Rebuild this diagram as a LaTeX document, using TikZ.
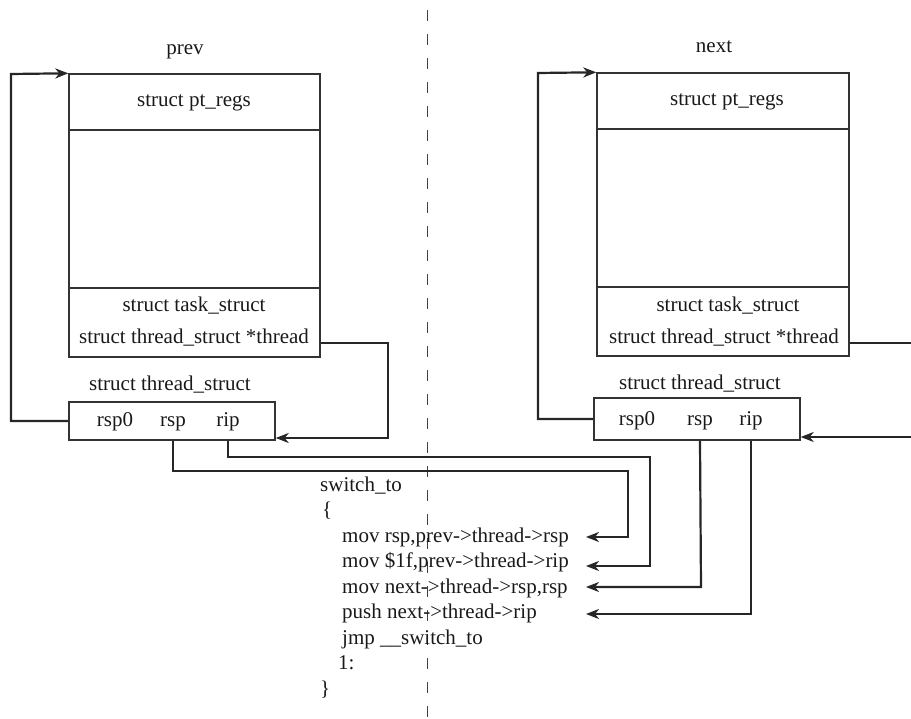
\documentclass[tikz,border=0pt]{standalone}
\usepackage{fontspec}
\setmainfont{Liberation Serif}
\usetikzlibrary{arrows.meta}
\begin{document}
\begin{tikzpicture}[x=1pt,y=-1pt,
  txt/.style={inner sep=0pt,anchor=base,font=\fontsize{21}{25}\selectfont,text=black!90},
  code/.style={inner sep=0pt,anchor=base west,font=\fontsize{21}{25}\selectfont,text=black!90},
  box/.style={draw=black!80,line width=1.4pt,inner sep=0pt},
  conn/.style={draw=black!85,line width=2.2pt},
  arr/.style={conn,-{Stealth[length=13pt,width=10pt,inset=4pt]}},
  sep/.style={draw=black!80,line width=1.4pt}]
\useasboundingbox (0,0) rectangle (911,719);

% dashed divider
\draw[black!75,line width=0.9pt,dash pattern=on 11pt off 13pt] (427,10) -- (427,719);

% ---------- prev ----------
\node[txt] (prevlbl) at (185,55) {prev};
\node[box,minimum width=251pt,minimum height=283pt] (prevbox) at (194.5,215.5) {};
\draw[sep] (prevbox.west |- 0,130) -- (prevbox.east |- 0,130);
\draw[sep] (prevbox.west |- 0,288) -- (prevbox.east |- 0,288);
\node[txt] (prevregs) at (194,107) {struct pt\_regs};
\node[txt] (prevtask) at (194,312) {struct task\_struct};
\node[txt] (prevptr) at (194,344) {struct thread\_struct *thread};
\node[txt] (prevtslbl) at (170,391) {struct thread\_struct};
\node[box,minimum width=206pt,minimum height=38pt] (prevts) at (172,421) {};
\node[txt] (prevrsp0) at (115,427) {rsp0};
\node[txt] (prevrsp) at (173,427) {rsp};
\node[txt] (prevrip) at (228,427) {rip};

% ---------- next ----------
\node[txt] (nextlbl) at (714,53) {next};
\node[box,minimum width=252pt,minimum height=283pt] (nextbox) at (723,214.5) {};
\draw[sep] (nextbox.west |- 0,129) -- (nextbox.east |- 0,129);
\draw[sep] (nextbox.west |- 0,287) -- (nextbox.east |- 0,287);
\node[txt] (nextregs) at (727,106) {struct pt\_regs};
\node[txt] (nexttask) at (728,312) {struct task\_struct};
\node[txt] (nextptr) at (724,344) {struct thread\_struct *thread};
\node[txt] (nexttslbl) at (700,390) {struct thread\_struct};
\node[box,minimum width=206pt,minimum height=42pt] (nextts) at (697,419) {};
\node[txt] (nextrsp0) at (637,426) {rsp0};
\node[txt] (nextrsp) at (700,426) {rsp};
\node[txt] (nextrip) at (751,426) {rip};

% ---------- code ----------
\node[code] (c0) at (320,491) {switch\_to};
\node[code] (c1) at (322,516) {\{};
\node[code] (c2) at (342,542) {mov rsp,prev->thread->rsp};
\node[code] (c3) at (342,567) {mov \$1f,prev->thread->rip};
\node[code] (c4) at (342,593) {mov next->thread->rsp,rsp};
\node[code] (c5) at (342,618) {push next->thread->rip};
\node[code] (c6) at (342,644) {jmp \_\_switch\_to};
\node[code] (c7) at (338,669) {1:};
\node[code] (c8) at (320,695) {\}};

\coordinate (e2) at (586,537);
\coordinate (e3) at (586,566);
\coordinate (e4) at (586,587);
\coordinate (e5) at (586,614);
\coordinate (rx1) at (912,343);
\coordinate (rx2) at (912,437);

% ---------- connectors ----------
% prev: rsp0 -> top of stack
\draw[arr] (prevts.west) -- (11,421) -- (11,74) -- (prevbox.north west);
% prev: thread pointer -> thread_struct
\draw[arr] (prevbox.east |- 0,343) -- (388,343) -- (388,438) -- (prevts.east |- 0,438);
% prev rsp -> mov rsp,prev->thread->rsp
\draw[arr] (prevrsp |- prevts.south) -- (173,471) -- (628,471) -- (628,537) -- (e2);
% prev rip -> mov $1f,prev->thread->rip
\draw[arr] (prevrip |- prevts.south) -- (228,457) -- (650,457) -- (650,566) -- (e3);

% next: rsp0 -> top of stack
\draw[arr] (nextts.west) -- (538,419) -- (538,73) -- (nextbox.north west);
% next: thread pointer (cut at edge)
\draw[conn] (nextbox.east |- 0,343) -- (rx1);
\draw[arr] (rx2) -- (nextts.east |- 0,437);
% next rsp -> mov next->thread->rsp,rsp
\draw[arr] (nextrsp |- nextts.south) -- (701,587) -- (e4);
% next rip -> push next->thread->rip
\draw[arr] (nextrip |- nextts.south) -- (751,614) -- (e5);
\end{tikzpicture}
\end{document}
